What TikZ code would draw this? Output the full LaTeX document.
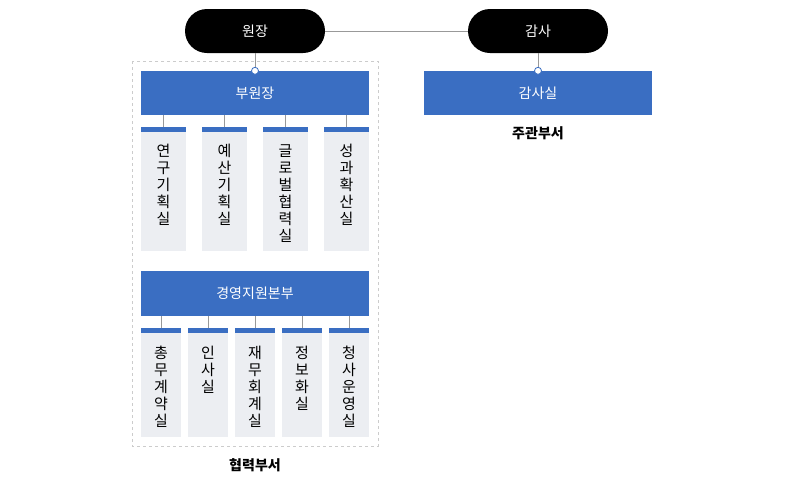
\documentclass[tikz,border=0pt]{standalone}
\usepackage{fontspec}
\setmainfont{Noto Sans CJK KR}
\begin{document}
\begin{tikzpicture}[x=1pt,y=-1pt,
  pill/.style={fill=black,rounded corners=22pt,text=white,font=\fontsize{14}{14}\selectfont},
  conn/.style={draw=gray!80,line width=0.8pt},
  vtext/.style={anchor=north,align=center,font=\fontsize{15}{17}\selectfont,inner sep=0pt}]
\definecolor{bl}{HTML}{3A6EC2}
\definecolor{gb}{HTML}{ECEEF2}
\useasboundingbox (0,0) rectangle (790,488);
\fill[white] (0,0) rectangle (790,488);
\draw[gray!40,dashed,line width=0.8pt] (132,61) rectangle (378,446);
\node[pill,minimum width=140pt,minimum height=44pt] (wj) at (255,31) {원장};
\node[pill,minimum width=140pt,minimum height=44pt] (gs) at (538,31) {감사};
\draw[conn] (wj.east) -- (gs.west);
\node[fill=bl,text=white,font=\fontsize{14}{14}\selectfont,minimum width=228pt,minimum height=44pt,inner sep=0pt] (bw) at (255,93) {부원장};
\node[fill=bl,text=white,font=\fontsize{14}{14}\selectfont,minimum width=228pt,minimum height=44pt,inner sep=0pt] (gss) at (538,93) {감사실};
\node[fill=bl,text=white,font=\fontsize{14}{14}\selectfont,minimum width=228pt,minimum height=45pt,inner sep=0pt] (gy) at (255,293.5) {경영지원본부};
\draw[conn] (wj.south) -- (bw.north);
\draw[conn] (gs.south) -- (gss.north);
\draw[bl,fill=white,line width=0.8pt] (bw.north) circle (3.5pt);
\draw[bl,fill=white,line width=0.8pt] (gss.north) circle (3.5pt);
\node[font=\bfseries\fontsize{14}{14}\selectfont] (jg) at (538,133) {주관부서};
\node[font=\bfseries\fontsize{14}{14}\selectfont] (hr) at (255,465) {협력부서};
\foreach \x/\t [count=\i] in {163.5/{연\\구\\기\\획\\실},224.5/{예\\산\\기\\획\\실},285.5/{글\\로\\벌\\협\\력\\실},346.5/{성\\과\\확\\산\\실}}{
  \fill[gb] (\x-22.5,127) rectangle (\x+22.5,251);
  \fill[bl] (\x-22.5,127) rectangle (\x+22.5,132);
  \coordinate (u\i) at (\x,127);
  \draw[conn] (\x,115) -- (u\i);
  \node[vtext] (ut\i) at (\x,144) {\t};
}
\foreach \x/\t [count=\i] in {161/{총\\무\\계\\약\\실},208/{인\\사\\실},255/{재\\무\\회\\계\\실},302/{정\\보\\화\\실},349/{청\\사\\운\\영\\실}}{
  \fill[gb] (\x-20,328) rectangle (\x+20,437);
  \fill[bl] (\x-20,328) rectangle (\x+20,333);
  \coordinate (l\i) at (\x,328);
  \draw[conn] (\x,316) -- (l\i);
  \node[vtext] (lt\i) at (\x,346) {\t};
}
\end{tikzpicture}
\end{document}
